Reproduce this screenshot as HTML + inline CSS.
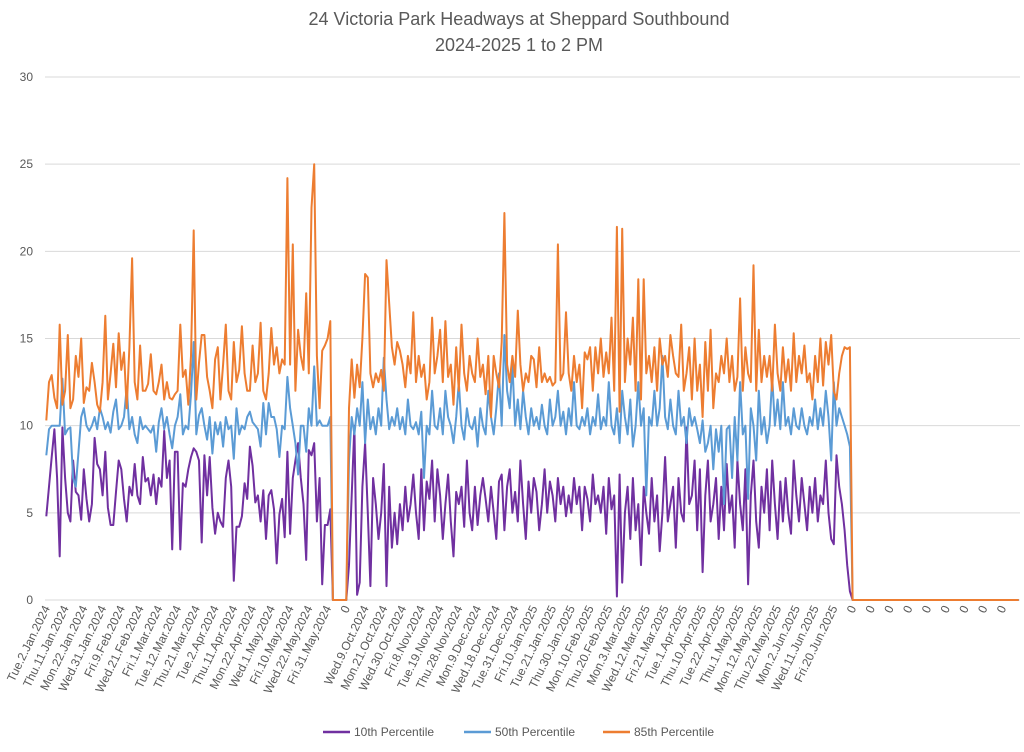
<!DOCTYPE html>
<html><head><meta charset="utf-8"><style>
body{margin:0;background:#fff;font-family:"Liberation Sans",sans-serif}
svg text{font-family:"Liberation Sans",sans-serif;fill:#595959}
</style></head><body>
<svg id="c" width="1024" height="747" viewBox="0 0 1024 747">
<text x="519" y="25" text-anchor="middle" font-size="18">24 Victoria Park Headways at Sheppard Southbound</text>
<text x="519" y="51" text-anchor="middle" font-size="18">2024-2025 1 to 2 PM</text>
<g id="grid"></g><g id="xl"></g><g id="lines"></g>
<g>
<g><line x1="323" y1="732" x2="350" y2="732" stroke="#7030a0" stroke-width="2.5"/><text x="354" y="736" font-size="12">10th Percentile</text></g>
<g><line x1="464" y1="732" x2="491" y2="732" stroke="#5b9bd5" stroke-width="2.5"/><text x="495" y="736" font-size="12">50th Percentile</text></g>
<g><line x1="603" y1="732" x2="630" y2="732" stroke="#ed7d31" stroke-width="2.5"/><text x="634" y="736" font-size="12">85th Percentile</text></g>
</g>
</svg>
<script>
const tickLabels=["Tue.2.Jan.2024","Thu.11.Jan.2024","Mon.22.Jan.2024","Wed.31.Jan.2024","Fri.9.Feb.2024","Wed.21.Feb.2024","Fri.1.Mar.2024","Tue.12.Mar.2024","Thu.21.Mar.2024","Tue.2.Apr.2024","Thu.11.Apr.2024","Mon.22.Apr.2024","Wed.1.May.2024","Fri.10.May.2024","Wed.22.May.2024","Fri.31.May.2024","0","Wed.9.Oct.2024","Mon.21.Oct.2024","Wed.30.Oct.2024","Fri.8.Nov.2024","Tue.19.Nov.2024","Thu.28.Nov.2024","Mon.9.Dec.2024","Wed.18.Dec.2024","Tue.31.Dec.2024","Fri.10.Jan.2025","Tue.21.Jan.2025","Thu.30.Jan.2025","Mon.10.Feb.2025","Thu.20.Feb.2025","Mon.3.Mar.2025","Wed.12.Mar.2025","Fri.21.Mar.2025","Tue.1.Apr.2025","Thu.10.Apr.2025","Tue.22.Apr.2025","Thu.1.May.2025","Mon.12.May.2025","Thu.22.May.2025","Mon.2.Jun.2025","Wed.11.Jun.2025","Fri.20.Jun.2025","0","0","0","0","0","0","0","0","0"];
const yTicks=[0,5,10,15,20,25,30];
const p85=[10.3,12.5,12.9,11.6,11.0,15.8,11.2,12.0,15.2,11.0,11.5,14.0,12.8,15.0,11.3,12.2,12.0,13.6,12.5,11.2,10.8,12.5,16.3,11.5,13.0,14.7,12.2,15.3,13.2,14.2,11.0,14.5,19.6,12.5,11.5,14.6,12.0,12.0,12.4,14.1,12.0,11.8,12.5,13.5,11.5,12.5,11.6,11.5,11.8,12.0,15.8,12.8,13.2,11.2,14.0,21.2,11.5,13.6,15.2,15.2,12.8,12.0,11.0,13.8,14.5,11.5,13.5,15.8,12.0,11.5,14.8,12.5,13.2,15.7,13.0,12.0,12.0,14.6,12.5,13.0,15.9,12.0,11.5,13.0,15.6,13.5,14.5,13.0,13.8,13.5,24.2,13.5,20.4,12.0,15.5,14.0,13.2,17.6,13.0,22.5,25.0,14.0,11.0,14.3,14.6,15.0,16.0,
0,0,0,0,0,0,
11.0,13.8,11.6,13.5,12.2,15.0,18.7,18.5,13.0,12.2,13.0,12.5,13.2,12.0,19.5,17.0,14.5,13.5,14.8,14.3,13.5,12.2,14.0,13.0,16.5,12.5,14.0,12.8,13.5,11.5,12.5,16.2,13.0,14.0,15.5,12.5,16.0,12.8,13.5,11.2,14.5,12.0,15.8,13.0,12.0,14.0,13.0,12.5,15.0,12.8,13.5,11.8,14.0,10.5,14.0,13.0,12.2,14.8,22.2,13.5,12.5,14.0,12.8,16.6,13.5,12.0,13.0,12.5,14.0,13.8,12.2,14.5,12.5,13.0,12.5,12.8,12.3,12.5,20.4,12.6,13.0,16.5,13.0,12.0,14.0,12.5,13.5,11.0,14.2,13.8,14.5,12.0,14.5,13.0,15.0,12.8,14.2,13.0,16.2,12.0,21.4,10.8,21.3,12.5,15.0,13.5,16.2,12.0,18.4,11.5,18.4,13.0,14.0,12.5,14.5,12.0,15.0,13.5,14.0,12.8,15.2,14.0,13.0,12.8,15.8,12.0,13.0,14.5,11.5,15.0,12.0,13.5,10.5,14.8,12.0,15.5,11.0,13.0,12.5,14.0,13.0,15.0,12.5,14.0,12.0,12.8,17.3,12.0,14.5,13.0,12.5,19.2,12.0,15.5,12.5,14.0,12.8,14.0,12.0,15.8,13.0,12.0,14.5,12.5,13.8,12.0,15.3,12.5,14.0,13.0,14.6,12.5,13.0,11.5,14.0,12.5,15.0,12.3,14.8,13.5,15.2,12.0,11.5,13.0,14.0,14.5,14.4,14.5,
0,0,0,0,0,0,0,0,0,0,0,0,0,0,0,0,0,0,0,0,0,0,0,0,0,0,0,0,0,0,0,0,0,0,0,0,0,0,0,0,0,0,0,0,0,0,0,0,0,0,0,0,0,0,0,0,0,0,0,0,0,0,0];
const p50=[8.3,9.8,10,10,10,10,12.7,9.5,9.8,9.9,7.0,6.5,8.5,10.5,11.0,10.0,9.7,10.0,10.5,9.8,11.0,10.5,9.8,10.2,9.6,10.8,11.5,9.8,10.0,10.5,12.2,9.8,10.5,9.5,9.0,10.5,9.8,10.0,9.8,9.6,10.0,8.5,10.2,11.0,9.8,10.5,9.5,8.7,10.0,10.5,11.8,9.5,10.0,9.8,11.8,14.8,9.5,10.6,11.0,10.0,9.2,10.5,8.4,10.2,9.5,10.2,8.8,10.5,9.8,10.0,8.1,11.0,9.5,10.0,9.8,10.5,10.8,10.2,10.0,9.8,8.8,11.3,9.5,11.3,10.5,10.5,9.8,8.2,10.0,9.8,12.8,11.0,10.0,9.0,7.2,10.0,10.0,8.5,11.0,10.0,13.4,10.0,10.3,10.0,10.0,10.0,10.5,
0,0,0,0,0,0,
8.0,10.5,9.5,11.0,10.0,12.5,9.0,11.5,9.8,10.5,9.5,11.0,10.0,13.9,11.5,9.8,10.5,10.0,11.0,9.8,10.5,9.5,11.5,10.0,9.8,10.2,9.5,10.8,7.0,10.0,9.5,12.0,10.0,9.8,11.0,9.5,12.0,10.5,10.0,9.0,10.5,12.5,10.0,9.2,11.0,10.0,9.8,10.5,8.8,11.0,10.0,9.5,12.0,10.5,9.5,11.0,13.0,10.0,15.2,12.0,11.0,13.5,10.0,11.5,9.8,12.0,10.5,9.5,11.0,10.0,10.5,9.8,11.2,10.0,9.5,11.5,10.0,10.5,12.0,10.0,10.8,9.5,11.0,10.0,12.5,10.0,9.8,10.5,10.0,11.0,9.5,10.5,10.0,11.8,9.8,10.5,10.0,12.5,10.0,9.5,11.0,9.0,12.0,10.5,9.5,11.5,8.8,10.0,12.5,10.0,11.0,6.0,10.5,10.0,12.0,10.0,11.0,14.0,10.5,9.8,11.5,10.0,9.5,12.0,10.0,10.5,9.0,11.0,10.0,10.5,9.8,9.0,10.3,8.5,9.0,10.0,7.5,9.8,8.5,10.0,5.5,9.8,10.0,7.0,10.5,8.0,12.5,9.5,10.0,5.8,11.0,10.0,8.0,12.0,9.5,10.5,9.0,10.0,12.8,10.0,11.5,9.8,12.5,10.0,10.5,9.5,11.0,10.0,9.8,11.0,10.0,9.5,10.5,10.0,11.5,9.8,11.0,10.0,12.0,10.5,8.0,12.5,10.0,11.0,10.5,10.0,9.5,8.8,
0,0,0,0,0,0,0,0,0,0,0,0,0,0,0,0,0,0,0,0,0,0,0,0,0,0,0,0,0,0,0,0,0,0,0,0,0,0,0,0,0,0,0,0,0,0,0,0,0,0,0,0,0,0,0,0,0,0,0,0,0,0,0];
const p10=[4.8,6.5,8.2,9.8,7.0,2.5,9.9,7.0,5.0,4.5,8.0,6.2,6.0,4.6,7.5,5.8,4.5,5.5,9.3,7.8,7.5,6.0,8.5,5.3,4.3,4.3,6.2,8.0,7.5,5.8,4.5,6.5,6.0,7.8,6.0,5.5,8.2,6.8,7.0,6.0,7.2,5.5,7.0,6.5,9.7,7.0,8.0,2.9,8.5,8.5,2.9,6.7,6.5,7.5,8.2,8.7,8.5,8.0,3.3,8.3,6.0,8.2,5.3,3.8,5.0,4.5,4.2,7.0,8.0,6.5,1.1,4.2,4.2,4.8,6.7,5.8,8.8,7.7,5.6,6.0,4.5,6.3,3.5,6.0,6.3,5.2,2.1,4.9,5.8,3.6,8.5,3.8,7.0,8.0,9.0,7.0,5.5,2.3,8.6,8.3,9.0,4.5,7.0,0.9,4.3,4.3,5.2,
0,0,0,0,0,0,
2.0,6.0,10.0,0.3,1.0,6.5,9.0,5.0,0.8,7.0,5.5,3.5,5.0,7.8,0.8,6.5,3.0,5.0,3.2,5.5,4.0,6.5,4.5,5.5,7.2,5.0,3.5,7.5,4.0,6.8,5.8,8.0,4.5,7.5,6.0,3.5,5.5,7.2,4.5,2.5,6.2,5.5,6.5,4.2,8.0,5.0,4.0,6.5,4.3,6.0,7.0,5.8,4.5,6.5,5.0,3.5,6.8,7.2,4.0,6.5,7.5,5.0,6.2,4.5,8.0,5.5,3.5,6.8,5.0,7.0,6.2,4.0,5.5,7.5,5.0,6.8,6.0,4.5,7.0,5.5,6.5,4.8,6.0,5.0,7.0,5.5,6.5,4.0,6.5,5.8,4.5,7.2,5.5,6.0,5.0,6.5,3.8,7.0,5.2,6.0,0.2,7.2,1.0,5.0,6.5,3.5,7.0,4.0,5.5,2.0,6.5,5.0,3.8,7.0,4.5,6.0,2.8,5.0,8.2,4.5,5.5,6.5,3.0,7.0,5.0,4.5,9.9,5.5,6.0,8.0,4.0,7.5,1.6,6.0,8.0,4.5,5.5,7.0,3.5,6.5,4.0,7.8,5.0,6.0,3.0,8.0,5.5,4.0,7.5,0.9,6.0,8.0,4.5,3.0,6.5,5.0,7.5,4.0,8.0,5.5,3.5,6.8,4.5,7.0,5.0,3.8,8.0,6.0,4.5,7.0,5.5,4.0,6.5,5.0,7.0,4.5,6.0,5.5,8.0,5.0,3.5,3.2,8.3,6.5,5.5,4.0,2.0,0.5,
0,0,0,0,0,0,0,0,0,0,0,0,0,0,0,0,0,0,0,0,0,0,0,0,0,0,0,0,0,0,0,0,0,0,0,0,0,0,0,0,0,0,0,0,0,0,0,0,0,0,0,0,0,0,0,0,0,0,0,0,0,0,0];
const NS="http://www.w3.org/2000/svg";
const X0=45,X1=1020,Y0=600,Y1=77,YMAX=30;
const N=tickLabels.length*7;
const bw=(X1-X0)/N;
const xs=i=>X0+(i+0.5)*bw;
const ys=v=>Y0-(v/YMAX)*(Y0-Y1);
function mk(t,a){const e=document.createElementNS(NS,t);for(const k in a)e.setAttribute(k,a[k]);return e;}
const grid=document.getElementById('grid');
yTicks.forEach(v=>{
 const l=mk('line',{x1:X0,x2:X1,y1:ys(v),y2:ys(v),stroke:'#d9d9d9','stroke-width':1});
 
 
 grid.appendChild(l);
 const t=mk('text',{x:33,y:ys(v)+4,'text-anchor':'end','font-size':12});
 t.textContent=v;
 
 
 grid.appendChild(t);
});
const xl=document.getElementById('xl');
tickLabels.forEach((s,k)=>{
 const x=xs(k*7)+4,y=608;
 const t=mk('text',{x:x,y:y,'text-anchor':'end','font-size':12,transform:`rotate(-64 ${x} ${y})`});
 t.textContent=s;
 
 
 xl.appendChild(t);
});
const lines=document.getElementById('lines');
[[p10,'#7030a0','line-10th-percentile'],[p50,'#5b9bd5','line-50th-percentile'],[p85,'#ed7d31','line-85th-percentile']].forEach(([d,c,n])=>{
 const pts=d.map((v,i)=>xs(i).toFixed(1)+','+ys(v).toFixed(1)).join(' ');
 const p=mk('polyline',{points:pts,fill:'none',stroke:c,'stroke-width':2,'stroke-linejoin':'round'});
 
 
 lines.appendChild(p);
});
</script>
</body></html>
